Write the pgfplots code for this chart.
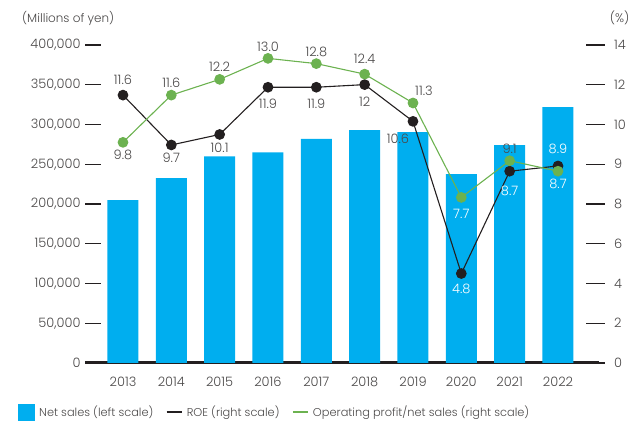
\documentclass[border=0pt]{standalone}
\usepackage{pgfplots}
\usepackage{pgfplotstable}
\pgfplotsset{compat=1.18}
\usepackage{fontspec}
\setmainfont{Poppins Light}
\definecolor{barblue}{RGB}{0,174,239}
\definecolor{roecol}{RGB}{35,31,32}
\definecolor{opmcol}{RGB}{108,178,80}
\definecolor{labgray}{RGB}{75,73,73}
\definecolor{tickcol}{RGB}{35,31,32}

\pgfplotstableread{
x y
0 205000
1 232500
2 260000
3 265000
4 282000
5 293000
6 290500
7 237500
8 274000
9 322000
}\sales

\pgfplotstableread{
x y lab dx dy w
0 11.6 11.6 0 15 0
1 9.7 9.7 0 -13 0
2 10.1 10.1 0 -13 0
3 11.9 11.9 0 -17 0
4 11.9 11.9 0 -17 0
5 12.0 12 0 -17 0
6 10.6 10.6 -15 -17 0
7 4.8 4.8 0 -15 100
8 8.7 8.7 0 -20 100
9 8.9 8.9 0 17 100
}\roe

\pgfplotstableread{
x y lab dx dy w
0 9.8 9.8 0 -13 0
1 11.6 11.6 0 12 0
2 12.2 12.2 0 13 0
3 13.0 13.0 0 12 0
4 12.8 12.8 0 12 0
5 12.4 12.4 0 15 0
6 11.3 11.3 11 12 0
7 7.7 7.7 0 -16 100
8 9.1 9.1 0 12 0
9 8.7 8.7 0 -13 100
}\opm

\begin{document}
\begin{tikzpicture}
\useasboundingbox (0,0) rectangle (630bp,426bp);
\begin{axis}[
  at={(85bp,63bp)}, anchor=south west, scale only axis,
  width=514bp, height=318bp,
  xmin=-0.786, xmax=9.849, ymin=0, ymax=400000,
  axis x line*=bottom, axis y line*=left,
  x axis line style={draw=tickcol, line width=3bp, -},
  y axis line style={draw=none},
  xtick={0,1,2,3,4,5,6,7,8,9},
  xticklabels={2013,2014,2015,2016,2017,2018,2019,2020,2021,2022},
  xtick style={draw=none},
  xticklabel style={yshift=5bp},
  ytick={0,50000,100000,150000,200000,250000,300000,350000,400000},
  ytick style={draw=tickcol, line width=1.2bp},
  major tick length=16bp, tick align=inside,
  scaled y ticks=false,
  yticklabel style={/pgf/number format/fixed, /pgf/number format/1000 sep={,}, xshift=-1bp},
  /pgf/number format/assume math mode=true,
  tick label style={font=\fontsize{13}{15}\selectfont, text=labgray},
  ybar, bar width=31bp,
]
\addplot[fill=barblue, draw=none] table[x=x,y=y] {\sales};
\end{axis}

\begin{axis}[
  at={(85bp,63bp)}, anchor=south west, scale only axis,
  width=510bp, height=318bp,
  xmin=-0.786, xmax=9.766, ymin=1.39, ymax=13.51,
  axis x line=none, axis y line*=right,
  y axis line style={draw=none},
  ytick={1.39,2.905,4.42,5.935,7.45,8.965,10.48,11.995,13.51},
  yticklabels={0,2,4,6,8,9,10,12,14},
  yticklabel style={xshift=6bp},
  ytick style={draw=tickcol, line width=1.2bp},
  major tick length=19bp, tick align=center,
  tick label style={font=\fontsize{13}{15}\selectfont, text=labgray},
  clip=false,
  legend style={at={(-0.137,-0.154)}, anchor=west, draw=none, fill=none,
    legend columns=-1, font=\fontsize{11.4}{14}\selectfont, text=labgray,
    nodes={inner xsep=1.5bp},
    /tikz/every odd column/.append style={column sep=3bp},
    /tikz/every even column/.append style={column sep=11bp}},
]
\addlegendimage{legend image code/.code={\fill[barblue] (0bp,-8bp) rectangle (16bp,8bp);}}
\addlegendimage{legend image code/.code={\draw[roecol, line width=1.4bp] (0bp,0bp) -- (15bp,0bp);}}
\addlegendimage{legend image code/.code={\draw[opmcol, line width=1.4bp] (0bp,0bp) -- (15bp,0bp);}}
\addplot[roecol, line width=1.1bp, mark=*, mark size=4.8bp,
  mark options={fill=roecol, draw=roecol},
  point meta=explicit symbolic,
  visualization depends on={\thisrow{dx} \as \ldx},
  visualization depends on={\thisrow{dy} \as \ldy},
  visualization depends on={\thisrow{w} \as \lw},
  nodes near coords,
  nodes near coords style={anchor=center, xshift=\ldx bp, yshift=\ldy bp,
    text=white!\lw!labgray, font=\fontsize{13}{15}\selectfont, inner sep=0pt},
  forget plot] table[x=x,y=y,meta=lab] {\roe};
\addplot[opmcol, line width=1.1bp, mark=*, mark size=4.8bp,
  mark options={fill=opmcol, draw=opmcol},
  point meta=explicit symbolic,
  visualization depends on={\thisrow{dx} \as \ldx},
  visualization depends on={\thisrow{dy} \as \ldy},
  visualization depends on={\thisrow{w} \as \lw},
  nodes near coords,
  nodes near coords style={anchor=center, xshift=\ldx bp, yshift=\ldy bp,
    text=white!\lw!labgray, font=\fontsize{13}{15}\selectfont, inner sep=0pt},
  forget plot] table[x=x,y=y,meta=lab] {\opm};
\legend{Net sales (left scale), ROE (right scale), Operating profit/net sales (right scale)}
\end{axis}
\node[anchor=west, text=labgray, font=\fontsize{12}{14}\selectfont, inner sep=0pt] at (22bp,408bp) {(Millions of yen)};
\node[anchor=east, text=labgray, font=\fontsize{12.5}{14}\selectfont, inner sep=0pt] at (629.5bp,408bp) {(\%)};
\end{tikzpicture}
\end{document}
